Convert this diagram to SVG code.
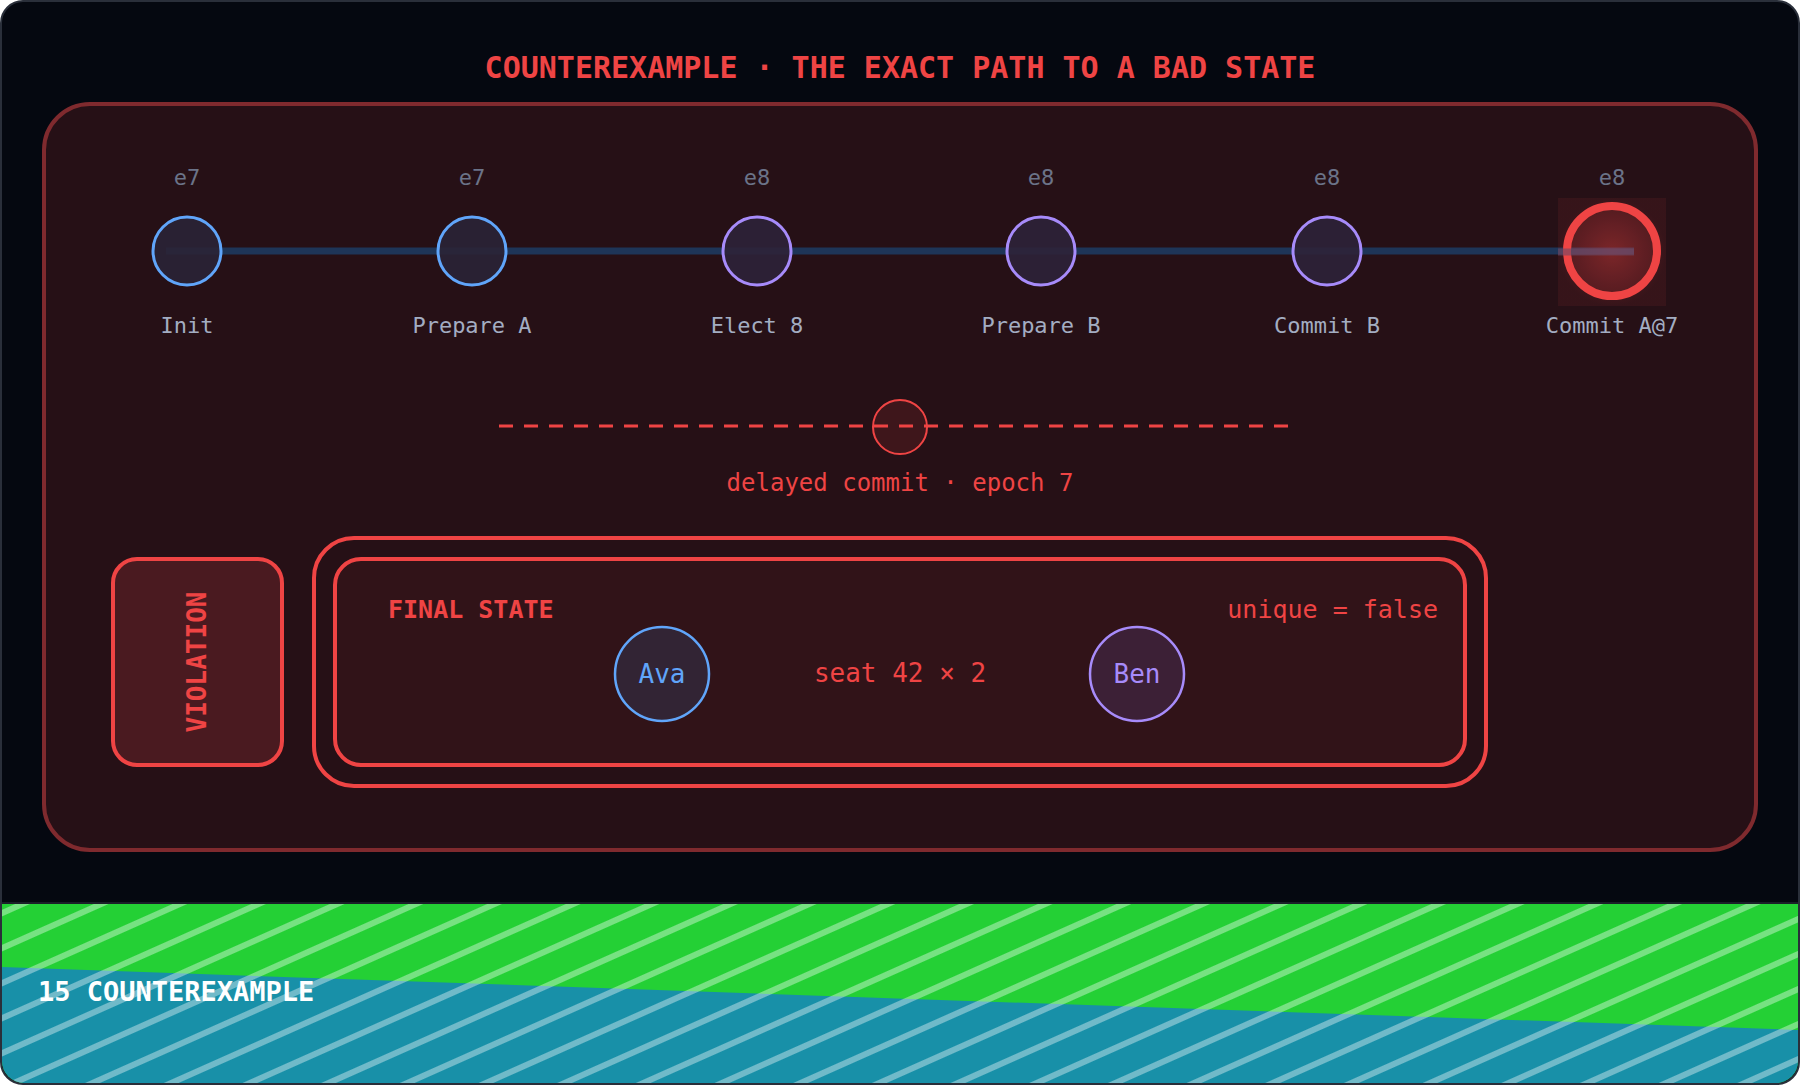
<svg xmlns="http://www.w3.org/2000/svg" width="1800" height="1085" viewBox="0 0 1800 1085">
<style>
.mono{font-family:"DejaVu Sans Mono","Liberation Mono",monospace}
.ep{font-size:22px;fill:#6b7388;text-anchor:middle}
.nm{font-size:22px;fill:#a3adc2;text-anchor:middle}
.red{fill:#ef4444}
</style>
<defs>
<clipPath id="frame"><rect x="2" y="2" width="1796" height="1081" rx="22"/></clipPath>
<pattern id="str" width="32" height="32" patternUnits="userSpaceOnUse" patternTransform="rotate(-24)">
<rect x="0" y="0" width="32" height="6" fill="#ffffff" fill-opacity="0.38"/>
</pattern>
<radialGradient id="glow"><stop offset="0" stop-color="#ef4444" stop-opacity="0.35"/><stop offset="1" stop-color="#ef4444" stop-opacity="0.08"/></radialGradient>
</defs>
<rect x="1" y="1" width="1798" height="1083" rx="22" fill="#050810" stroke="#2a2f3a" stroke-width="2"/>
<g clip-path="url(#frame)">
<rect x="0" y="903" width="1800" height="182" fill="#24d035"/>
<polygon points="0,967 1800,1030 1800,1085 0,1085" fill="#1890a8"/>
<rect x="0" y="903" width="1800" height="182" fill="url(#str)"/>
<line x1="0" y1="903" x2="1800" y2="903" stroke="#1a1f28" stroke-width="2"/>
</g>
<text class="mono" x="38" y="1001" font-size="27" font-weight="bold" fill="#ffffff">15 COUNTEREXAMPLE</text>
<text class="mono red" x="900" y="78" font-size="30" font-weight="bold" text-anchor="middle">COUNTEREXAMPLE · THE EXACT PATH TO A BAD STATE</text>
<rect id="panel" x="44" y="104" width="1712" height="746" rx="46" fill="#261016" stroke="#7f2a2e" stroke-width="4"/>
<g id="connectors">
<line x1="166" y1="251" x2="1634" y2="251" stroke="#1e3a5f" stroke-width="7" stroke-opacity="0.9"/>
<line x1="499" y1="426" x2="1297" y2="426" stroke="#ef4444" stroke-width="3" stroke-dasharray="14 11"/>
<rect x="737" y="669" width="57" height="10" fill="#ef4444"/>
<rect x="1006" y="669" width="57" height="10" fill="#ef4444"/>
</g>
<g id="n1"><text class="mono ep" x="187" y="185">e7</text><circle cx="187" cy="251" r="34" fill="#2a2336" fill-opacity="0.9" stroke="#60a5fa" stroke-width="3"/><text class="mono nm" x="187" y="333">Init</text></g>
<g id="n2"><text class="mono ep" x="472" y="185">e7</text><circle cx="472" cy="251" r="34" fill="#2a2336" fill-opacity="0.9" stroke="#60a5fa" stroke-width="3"/><text class="mono nm" x="472" y="333">Prepare A</text></g>
<g id="n3"><text class="mono ep" x="757" y="185">e8</text><circle cx="757" cy="251" r="34" fill="#2e2238" fill-opacity="0.9" stroke="#a78bfa" stroke-width="3"/><text class="mono nm" x="757" y="333">Elect 8</text></g>
<g id="n4"><text class="mono ep" x="1041" y="185">e8</text><circle cx="1041" cy="251" r="34" fill="#2e2238" fill-opacity="0.9" stroke="#a78bfa" stroke-width="3"/><text class="mono nm" x="1041" y="333">Prepare B</text></g>
<g id="n5"><text class="mono ep" x="1327" y="185">e8</text><circle cx="1327" cy="251" r="34" fill="#2e2238" fill-opacity="0.9" stroke="#a78bfa" stroke-width="3"/><text class="mono nm" x="1327" y="333">Commit B</text></g>
<g id="n6"><text class="mono ep" x="1612" y="185">e8</text><rect x="1558" y="198" width="108" height="108" fill="url(#glow)"/><circle cx="1612" cy="251" r="45" fill="#ef4444" fill-opacity="0.12" stroke="#ef4444" stroke-width="8"/><line x1="1558" y1="252" x2="1634" y2="252" stroke="#6b4a66" stroke-width="7" stroke-opacity="0.6"/><text class="mono nm" x="1612" y="333">Commit A@7</text></g>
<g id="delayed"><circle cx="900" cy="427" r="27" fill="#ef4444" fill-opacity="0.12" stroke="#ef4444" stroke-width="2"/><text class="mono red" x="900" y="491" font-size="24" text-anchor="middle">delayed commit · epoch 7</text></g>
<g id="violation"><rect x="113" y="559" width="169" height="206" rx="24" fill="#4a1a20" stroke="#ef4444" stroke-width="4"/><text class="mono red" font-size="26" font-weight="bold" text-anchor="middle" transform="translate(206,662) rotate(-90)">VIOLATION</text></g>
<g id="final">
<rect x="314" y="538" width="1172" height="248" rx="40" fill="none" stroke="#ef4444" stroke-width="4"/>
<rect x="335" y="559" width="1130" height="206" rx="26" fill="#311318" stroke="#ef4444" stroke-width="4"/>
<text class="mono red" x="388" y="618" font-size="25" font-weight="bold">FINAL STATE</text>
<text class="mono red" x="1438" y="618" font-size="25" text-anchor="end">unique = false</text>
<text class="mono red" x="900" y="682" font-size="26" text-anchor="middle">seat 42 × 2</text>
</g>
<g id="ava"><circle cx="662" cy="674" r="47" fill="#322434" stroke="#60a5fa" stroke-width="2.5"/><text class="mono" x="662" y="683" font-size="26" fill="#60a5fa" text-anchor="middle">Ava</text></g>
<g id="ben"><circle cx="1137" cy="674" r="47" fill="#3c2036" stroke="#a78bfa" stroke-width="2.5"/><text class="mono" x="1137" y="683" font-size="26" fill="#a78bfa" text-anchor="middle">Ben</text></g>
</svg>
